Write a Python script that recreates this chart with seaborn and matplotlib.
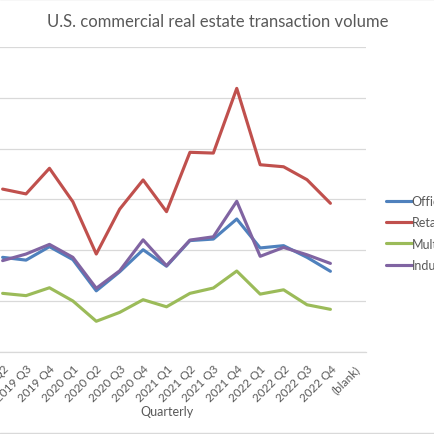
import pandas as pd
import seaborn as sns
import matplotlib.pyplot as plt

quarters = ['2019 Q2', '2019 Q3', '2019 Q4', '2020 Q1', '2020 Q2', '2020 Q3', '2020 Q4',
            '2021 Q1', '2021 Q2', '2021 Q3', '2021 Q4', '2022 Q1', '2022 Q2', '2022 Q3',
            '2022 Q4', '(blank)']
office = [37.2, 36.1, 41.4, 36.3, 24.0, 31.5, 40.2, 33.7, 43.8, 44.4, 52.3, 40.9, 41.8, 37.2, 31.7, None]
retail = [64.1, 62.2, 72.3, 59.1, 38.5, 56.2, 67.7, 55.2, 78.6, 78.3, 103.8, 73.7, 72.9, 67.8, 58.5, None]
multifamily = [23.0, 22.1, 25.2, 20.0, 12.0, 15.5, 20.5, 17.7, 23.0, 25.1, 31.8, 22.7, 24.4, 18.5, 16.7, None]
industrial = [35.9, 38.5, 42.3, 37.2, 25.0, 31.9, 44.1, 33.9, 44.0, 45.3, 59.3, 37.6, 41.1, 38.2, 34.8, None]

series = {'Office': office, 'Retail': retail, 'Multifamily': multifamily, 'Industrial': industrial}
colors = ['#4F81BD', '#C0504D', '#9BBB59', '#8064A2']

rows = []
for name, vals in series.items():
    for i, q in enumerate(quarters):
        rows.append({'quarter': i, 'type': name, 'volume': vals[i]})
df = pd.DataFrame(rows)

sns.set_theme(style='white')
plt.rcParams['font.family'] = ['Lato', 'DejaVu Sans']
grey = '#595959'

fig = plt.figure(figsize=(4.35, 4.35), dpi=100)
ax = fig.add_axes([-0.0747, 0.1892, 0.915, 0.6998])
sns.lineplot(data=df, x='quarter', y='volume', hue='type', palette=colors,
             linewidth=2.25, ax=ax, legend=True)

ax.set_xlim(-1.5, 15.5)
ax.set_ylim(0, 120)
ax.set_yticks(range(0, 121, 20))
ax.set_xticks(range(len(quarters)))
ax.set_xticklabels(quarters, rotation=45, ha='right', rotation_mode='anchor',
                   fontsize=8.5, color=grey)
ax.tick_params(axis='x', length=0, pad=8)
ax.tick_params(axis='y', labelleft=False, length=0)
ax.grid(axis='y', color='#d9d9d9', linewidth=0.9)
ax.set_axisbelow(True)
for s in ['top', 'left', 'right']:
    ax.spines[s].set_visible(False)
ax.spines['bottom'].set_color('#d9d9d9')
ax.spines['bottom'].set_linewidth(0.9)
ax.set_ylabel('')
ax.set_xlabel('Quarterly', fontsize=9, color=grey)
ax.xaxis.set_label_coords(0.5, -0.175)

handles, labels = ax.get_legend_handles_labels()
ax.legend_.remove()
fig.legend(handles, labels, loc='center left', bbox_to_anchor=(0.872, 0.462),
           frameon=False, fontsize=9, labelcolor=grey, handlelength=2.1,
           handletextpad=0.0, labelspacing=0.75, borderpad=0)

fig.text(0.5, 0.95, 'U.S. commercial real estate transaction volume',
         ha='center', va='center', fontsize=12, color=grey)

fig.add_artist(plt.Line2D([0, 1], [0.999, 0.999], color='#d9d9d9', linewidth=1))
fig.add_artist(plt.Line2D([0, 1], [0.002, 0.002], color='#d9d9d9', linewidth=1))

fig.savefig('out.png', dpi=100)
